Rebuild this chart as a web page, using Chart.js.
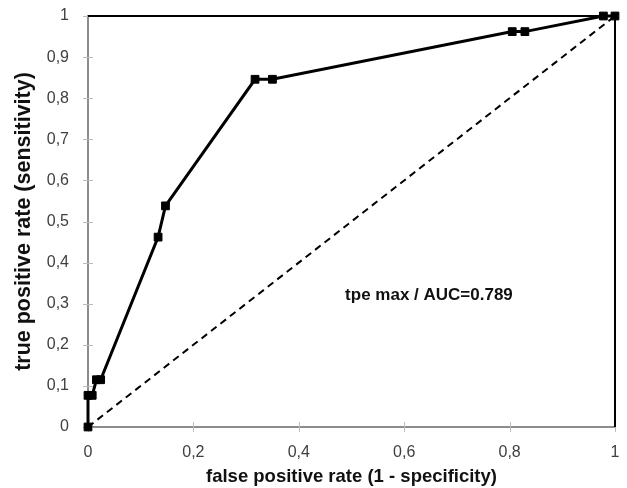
<!DOCTYPE html>
<html>
<head>
<meta charset="utf-8">
<script src="https://cdn.jsdelivr.net/npm/chart.js@4"></script>
<style>
  html, body { margin: 0; padding: 0; background: #fff; }
  #wrap { width: 627px; height: 488px; }
</style>
</head>
<body>
<div id="wrap"><canvas id="rocChart" width="627" height="488"></canvas></div>
<script>
// ROC points
const fpr = [0, 0, 0.008, 0.016, 0.024, 0.133, 0.147, 0.317, 0.35, 0.805, 0.829, 0.978, 1];
const tpr = [0, 0.077, 0.077, 0.115, 0.115, 0.462, 0.538, 0.846, 0.846, 0.962, 0.962, 1, 1];
const xTickLabels = ['0', '0,2', '0,4', '0,6', '0,8', '1'];
const yTickLabels = ['0', '0,1', '0,2', '0,3', '0,4', '0,5', '0,6', '0,7', '0,8', '0,9', '1'];
const chanceX = [0, 1];
const chanceY = [0, 1];
const frameX = [0, 1, 1];
const frameY = [1, 1, 0];
const noteText = 'tpe max / AUC=0.789';
const notePos = [0.647, 0.321];

function pts(xs, ys) {
    return xs.map(function (x, i) { return { x: x, y: ys[i] }; });
}

// small tick marks crossing the axis lines, and the AUC note
const extras = {
    id: 'extras',
    beforeDatasetsDraw: function (chart) {
        const ctx = chart.ctx;
        const xs = chart.scales.x, ys = chart.scales.y;
        ctx.save();
        ctx.strokeStyle = '#bdbdbd';
        ctx.lineWidth = 1;
        ctx.beginPath();
        xs.ticks.forEach(function (t) {
            const px = Math.round(xs.getPixelForValue(t.value)) + 0.5;
            ctx.moveTo(px, ys.bottom + 5);
            ctx.lineTo(px, ys.bottom - 5);
        });
        ys.ticks.forEach(function (t) {
            const py = Math.round(ys.getPixelForValue(t.value)) + 0.5;
            ctx.moveTo(xs.left - 5, py);
            ctx.lineTo(xs.left + 5, py);
        });
        ctx.stroke();
        ctx.restore();
    },
    afterDatasetsDraw: function (chart) {
        const ctx = chart.ctx;
        const xs = chart.scales.x, ys = chart.scales.y;
        ctx.save();
        ctx.fillStyle = '#111';
        ctx.font = 'bold 17px "Liberation Sans", Arial, sans-serif';
        ctx.textAlign = 'center';
        ctx.textBaseline = 'middle';
        ctx.fillText(noteText, xs.getPixelForValue(notePos[0]), ys.getPixelForValue(notePos[1]));
        ctx.restore();
    }
};

const ctx = document.getElementById('rocChart').getContext('2d');
new Chart(ctx, {
    type: 'scatter',
    data: {
        datasets: [
            {
                label: 'frame',
                data: pts(frameX, frameY),
                showLine: true,
                clip: false,
                borderColor: '#000',
                borderWidth: 2,
                pointRadius: 0
            },
            {
                label: 'chance',
                data: pts(chanceX, chanceY),
                showLine: true,
                borderColor: '#000',
                borderWidth: 2,
                borderDash: [7, 5],
                pointRadius: 0
            },
            {
                label: 'tpe max',
                data: pts(fpr, tpr),
                showLine: true,
                clip: false,
                borderColor: '#000',
                borderWidth: 3,
                pointStyle: 'rect',
                pointRadius: 5.5,
                pointBackgroundColor: '#000',
                pointBorderColor: '#000',
                pointBorderWidth: 1
            }
        ]
    },
    options: {
        responsive: false,
        animation: false,
        layout: { autoPadding: false, padding: { top: 16, right: 12, left: 0, bottom: 0 } },
        plugins: {
            legend: { display: false },
            tooltip: { enabled: false }
        },
        scales: {
            x: {
                type: 'linear',
                min: 0,
                max: 1,
                afterFit: function (s) { s.height = 61; },
                border: { color: '#8c8c8c', width: 2 },
                grid: { drawOnChartArea: false, drawTicks: true, tickLength: 14, tickColor: 'rgba(0,0,0,0)' },
                ticks: {
                    stepSize: 0.2,
                    padding: 2,
                    color: '#404040',
                    font: { family: '"Liberation Sans", Arial, sans-serif', size: 16 },
                    callback: function (v, i) { return xTickLabels[i]; }
                },
                title: {
                    display: true,
                    text: 'false positive rate (1 - specificity)',
                    color: '#111',
                    padding: { top: 0, bottom: 0 },
                    font: { family: '"Liberation Sans", Arial, sans-serif', size: 18.5, weight: 'bold' }
                }
            },
            y: {
                type: 'linear',
                min: 0,
                max: 1,
                afterFit: function (s) { s.width = 88; },
                border: { color: '#8c8c8c', width: 2 },
                grid: { drawOnChartArea: false, drawTicks: true, tickLength: 17, tickColor: 'rgba(0,0,0,0)' },
                ticks: {
                    stepSize: 0.1,
                    padding: 2,
                    color: '#404040',
                    font: { family: '"Liberation Sans", Arial, sans-serif', size: 16 },
                    callback: function (v, i) { return yTickLabels[i]; }
                },
                title: {
                    display: true,
                    text: 'true positive rate (sensitivity)',
                    color: '#111',
                    padding: { top: 11, bottom: 0 },
                    font: { family: '"Liberation Sans", Arial, sans-serif', size: 21.5, weight: 'bold' }
                }
            }
        }
    },
    plugins: [extras]
});
</script>
</body>
</html>
